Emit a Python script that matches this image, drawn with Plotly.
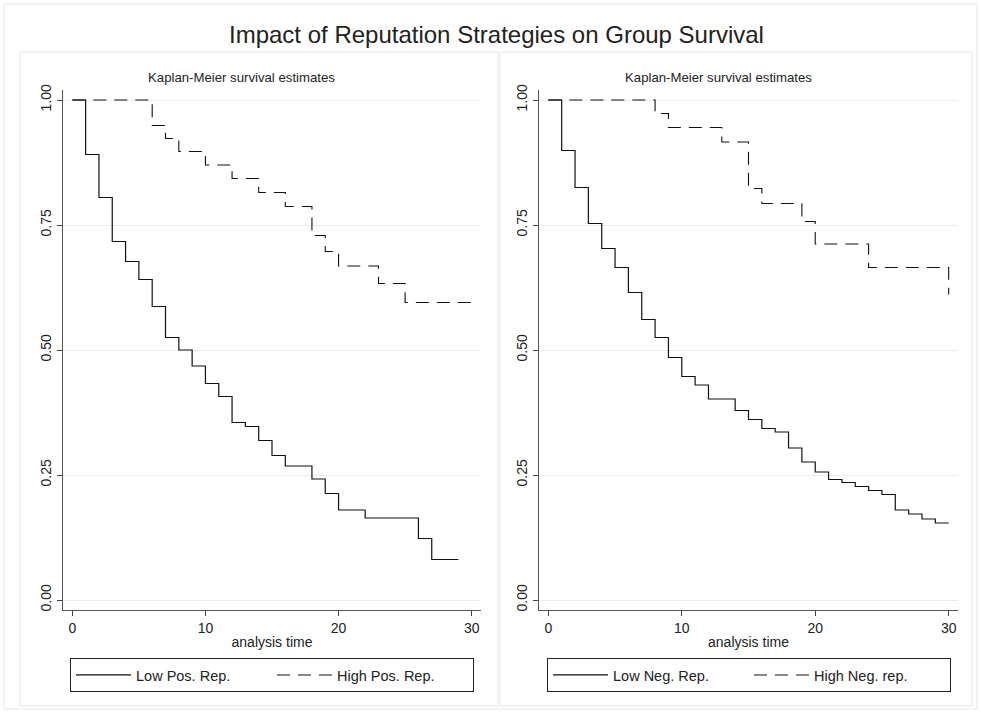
import plotly.graph_objects as go

W, H = 981, 713

# ---- data ----
low_pos_t = [0, 1, 2, 3, 4, 5, 6, 7, 8, 9, 10, 11, 12, 13, 14, 15, 16, 18, 19, 20, 22, 26, 27, 29]
low_pos_s = [1.0, 0.891, 0.805, 0.717, 0.677, 0.641, 0.587, 0.525, 0.500, 0.468, 0.433, 0.407,
             0.355, 0.347, 0.319, 0.289, 0.268, 0.242, 0.213, 0.180, 0.164, 0.123, 0.081, 0.081]

high_pos_t = [0, 6, 7, 8, 10, 12, 14, 16, 18, 19, 20, 23, 25, 30]
high_pos_s = [1.0, 0.949, 0.923, 0.897, 0.870, 0.843, 0.815, 0.787, 0.729, 0.697, 0.668, 0.633, 0.595, 0.595]

low_neg_t = [0, 1, 2, 3, 4, 5, 6, 7, 8, 9, 10, 11, 12, 14, 15, 16, 17, 18, 19, 20, 21, 22, 23,
             24, 25, 26, 27, 28, 29, 30]
low_neg_s = [1.0, 0.899, 0.825, 0.753, 0.703, 0.665, 0.615, 0.561, 0.525, 0.485, 0.447, 0.430,
             0.402, 0.379, 0.361, 0.343, 0.336, 0.304, 0.276, 0.256, 0.241, 0.235, 0.227, 0.219,
             0.211, 0.180, 0.172, 0.162, 0.154, 0.154]

high_neg_t = [0, 8, 9, 13, 15, 16, 19, 20, 24, 30]
high_neg_s = [1.0, 0.973, 0.945, 0.916, 0.823, 0.793, 0.757, 0.712, 0.665, 0.611]

y_tickvals = [0, 0.25, 0.5, 0.75, 1.0]
y_ticktext = ["0.00", "0.25", "0.50", "0.75", "1.00"]
x_tickvals = [0, 10, 20, 30]

main_title = "Impact of Reputation Strategies on Group Survival"
sub_title = "Kaplan-Meier survival estimates"
x_title = "analysis time"
names_left = ["Low Pos. Rep.", "High Pos. Rep."]
names_right = ["Low Neg. Rep.", "High Neg. rep."]

FONT = "Liberation Sans, Arial, Helvetica, sans-serif"
DASH = "13px,8px"


def fx(px):
    return px / W


def fy(py):
    return 1 - py / H


fig = go.Figure()

solid = dict(color="#111111", width=1.2, shape="hv")
dashed = dict(color="#111111", width=1.1, shape="hv", dash=DASH)

fig.add_trace(go.Scatter(x=low_pos_t, y=low_pos_s, mode="lines", name=names_left[0],
                         line=solid, xaxis="x", yaxis="y", legend="legend"))
fig.add_trace(go.Scatter(x=high_pos_t, y=high_pos_s, mode="lines", name=names_left[1],
                         line=dashed, xaxis="x", yaxis="y", legend="legend"))
fig.add_trace(go.Scatter(x=low_neg_t, y=low_neg_s, mode="lines", name=names_right[0],
                         line=solid, xaxis="x2", yaxis="y2", legend="legend2"))
fig.add_trace(go.Scatter(x=high_neg_t, y=high_neg_s, mode="lines", name=names_right[1],
                         line=dashed, xaxis="x2", yaxis="y2", legend="legend2"))

top_px, bot_px = 90, 610
ydom = [fy(bot_px), fy(top_px)]

xaxis_common = dict(
    range=[-0.70, 30.70], tickvals=x_tickvals, ticks="outside", ticklen=5, tickwidth=1,
    tickcolor="#444", showgrid=False, zeroline=False, showline=True, linecolor="#555",
    linewidth=1, tickfont=dict(family=FONT, size=14, color="#222"),
    title=dict(text=x_title, font=dict(family=FONT, size=14, color="#222"), standoff=2),
    fixedrange=True,
)
yaxis_common = dict(
    range=[-0.02, 1.02], tickvals=y_tickvals, ticktext=y_ticktext, tickangle=-90,
    ticks="outside", ticklen=5, tickwidth=1, tickcolor="#444", showgrid=True,
    gridcolor="#ebebeb", gridwidth=1, zeroline=False, showline=True, linecolor="#555",
    linewidth=1, tickfont=dict(family=FONT, size=14, color="#222"), fixedrange=True,
)

legend_common = dict(
    orientation="h", xanchor="center", yanchor="top", y=fy(658),
    bordercolor="#222", borderwidth=1, bgcolor="white",
    font=dict(family=FONT, size=14.5, color="#222"),
    itemwidth=55, entrywidth=131, entrywidthmode="pixels",
    itemclick=False, itemdoubleclick=False,
)

fig.update_layout(
    width=W, height=H,
    margin=dict(l=0, r=0, t=0, b=0, autoexpand=False),
    paper_bgcolor="white", plot_bgcolor="white",
    showlegend=True,
    xaxis=dict(domain=[fx(63), fx(481)], anchor="y", **xaxis_common),
    yaxis=dict(domain=ydom, anchor="x", **yaxis_common),
    xaxis2=dict(domain=[fx(539), fx(958)], anchor="y2", **xaxis_common),
    yaxis2=dict(domain=ydom, anchor="x2", **yaxis_common),
    legend=dict(x=fx(272), **legend_common),
    legend2=dict(x=fx(749), **legend_common),
    font=dict(family=FONT, color="#222"),
)

# frames around figure and panels
fig.add_shape(type="rect", xref="paper", yref="paper", x0=fx(4), x1=fx(977), y0=fy(709), y1=fy(4),
              line=dict(color="#e6e6e6", width=1), layer="below")
fig.add_shape(type="rect", xref="paper", yref="paper", x0=fx(20), x1=fx(498), y0=fy(706), y1=fy(52),
              line=dict(color="#e6e6e6", width=1), layer="below")
fig.add_shape(type="rect", xref="paper", yref="paper", x0=fx(500), x1=fx(972), y0=fy(706), y1=fy(52),
              line=dict(color="#e6e6e6", width=1), layer="below")

fig.add_annotation(text=main_title, xref="paper", yref="paper", x=fx(497), y=fy(35),
                   showarrow=False, font=dict(family=FONT, size=24, color="#222"),
                   xanchor="center", yanchor="middle")
fig.add_annotation(text=sub_title, xref="paper", yref="paper", x=fx(241), y=fy(77),
                   showarrow=False, font=dict(family=FONT, size=13.2, color="#222"),
                   xanchor="center", yanchor="middle")
fig.add_annotation(text=sub_title, xref="paper", yref="paper", x=fx(718), y=fy(77),
                   showarrow=False, font=dict(family=FONT, size=13.2, color="#222"),
                   xanchor="center", yanchor="middle")

fig.write_html("out.html", config={"displayModeBar": False},
               post_script="document.body.style.margin='0';document.body.style.overflow='hidden';")
